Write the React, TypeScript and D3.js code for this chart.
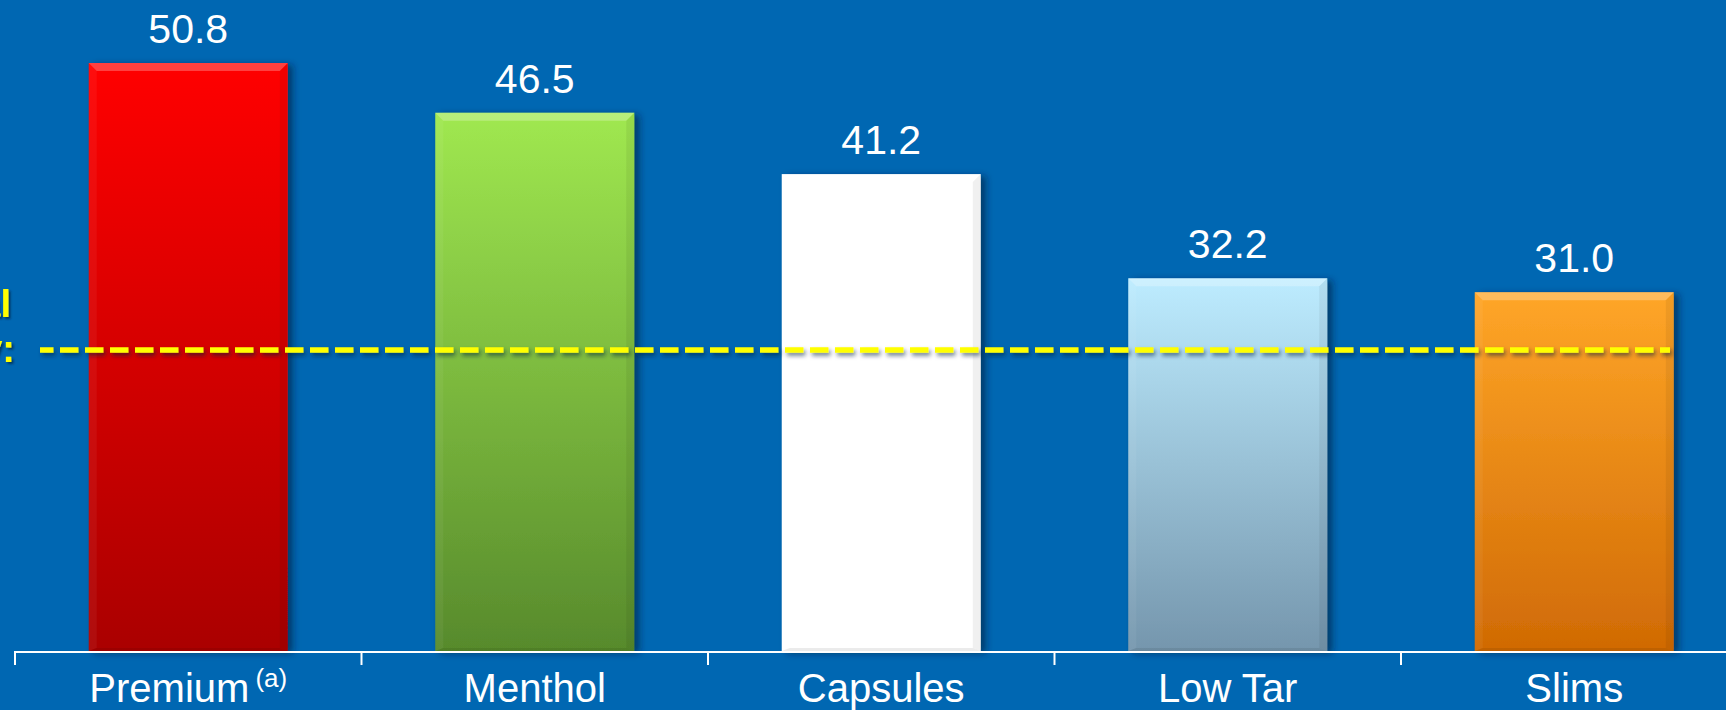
import React from "react";
import * as d3 from "d3";

// Segment values (share, %) and the industry reference level
const categories = ["Premium", "Menthol", "Capsules", "Low Tar", "Slims"];
const values = [50.8, 46.5, 41.2, 32.2, 31.0];
const superscripts = ["(a)", "", "", "", ""];
const industryAverage = 26.0;
const referenceLabel = ["Total", "Industry:"];

// top / bottom gradient stops per bar
const barTopColors = ["#ff0606", "#a0e850", "#ffffff", "#bdecff", "#ffa628"];
const barBottomColors = ["#aa0000", "#578a2c", "#ffffff", "#7596ad", "#d06a04"];

const W = 1726;
const H = 710;
const BG = "#0067b2";

export default function App() {
  const x = d3
    .scaleBand<string>()
    .domain(categories)
    .range([15, 15 + 346.5 * categories.length])
    .paddingInner(0)
    .paddingOuter(0);
  const barW = 199;
  const y = d3.scaleLinear().domain([0, 50.8]).range([651, 63]);
  const baseY = 652;
  const bev = 8;
  const avgY = y(industryAverage);

  const ticks = d3.range(categories.length + 1).map((i) => 15 + i * x.bandwidth());

  return (
    <svg
      width={W}
      height={H}
      style={{ position: "fixed", left: 0, top: 0, display: "block" }}
      fontFamily="'Liberation Sans', Arial, sans-serif"
    >
      <defs>
        {categories.map((c, i) => (
          <linearGradient key={c} id={`g${i}`} x1="0" y1="0" x2="0" y2="1">
            <stop offset="0" stopColor={barTopColors[i]} />
            <stop offset="1" stopColor={barBottomColors[i]} />
          </linearGradient>
        ))}
        <filter id="barShadow" x="-10%" y="-10%" width="130%" height="120%">
          <feDropShadow dx="5" dy="2" stdDeviation="3.5" floodColor="#001a3a" floodOpacity="0.6" />
        </filter>
        <filter
          id="lineShadow"
          filterUnits="userSpaceOnUse"
          x={0}
          y={avgY - 30}
          width={W}
          height={60}
        >
          <feDropShadow dx="2" dy="3" stdDeviation="2" floodColor="#001a3a" floodOpacity="0.55" />
        </filter>
        <filter id="textShadow" x="-20%" y="-20%" width="140%" height="140%">
          <feDropShadow dx="2" dy="2" stdDeviation="1" floodColor="#002040" floodOpacity="0.7" />
        </filter>
      </defs>

      <rect x={0} y={0} width={W} height={H} fill={BG} />

      {/* bars with bevelled edges */}
      {categories.map((c, i) => {
        const cx = (x(c) as number) + x.bandwidth() / 2;
        const x0 = cx - barW / 2;
        const x1 = cx + barW / 2;
        const y0 = y(values[i]);
        const y1 = y(0);
        return (
          <g key={c}>
            <rect
              x={x0}
              y={y0}
              width={barW}
              height={y1 - y0}
              fill={`url(#g${i})`}
              filter="url(#barShadow)"
            />
            {/* top bevel highlight */}
            <polygon
              points={`${x0},${y0} ${x1},${y0} ${x1 - bev},${y0 + bev} ${x0 + bev},${y0 + bev}`}
              fill="#ffffff"
              opacity={0.25}
            />
            {/* left bevel */}
            <polygon
              points={`${x0},${y0} ${x0 + bev},${y0 + bev} ${x0 + bev},${y1 - 3} ${x0},${y1}`}
              fill="#ffffff"
              opacity={0.05}
            />
            {/* right bevel */}
            <polygon
              points={`${x1},${y0} ${x1 - bev},${y0 + bev} ${x1 - bev},${y1 - 3} ${x1},${y1}`}
              fill="#000000"
              opacity={0.06}
            />
            {/* bottom bevel */}
            <polygon
              points={`${x0},${y1} ${x0 + bev},${y1 - 3} ${x1 - bev},${y1 - 3} ${x1},${y1}`}
              fill="#000000"
              opacity={0.08}
            />
            <text
              x={cx}
              y={y0 - 20}
              textAnchor="middle"
              fill="#ffffff"
              fontSize={41}
            >
              {d3.format(".1f")(values[i])}
            </text>
          </g>
        );
      })}

      {/* industry reference dashed line */}
      <line
        x1={40}
        x2={1670}
        y1={avgY}
        y2={avgY}
        stroke="#ffff00"
        strokeWidth={5.5}
        strokeDasharray="18.5 6.5"
        strokeDashoffset={-20}
        filter="url(#lineShadow)"
      />

      {/* reference label, running off the left edge */}
      <g filter="url(#textShadow)" fill="#ffff00" fontWeight="bold" fontSize={38} textAnchor="end">
        <text x={11} y={317}>{referenceLabel[0]}</text>
        <text x={15} y={362}>{referenceLabel[1]}</text>
      </g>

      {/* category axis */}
      <line x1={14} x2={W} y1={baseY} y2={baseY} stroke="#ffffff" strokeWidth={2} />
      {ticks.map((t, i) => (
        <line key={i} x1={t} x2={t} y1={baseY} y2={baseY + 13} stroke="#ffffff" strokeWidth={2} />
      ))}
      {categories.map((c, i) => {
        const cx = (x(c) as number) + x.bandwidth() / 2;
        return (
          <text key={c} x={cx} y={702} textAnchor="middle" fill="#ffffff" fontSize={40}>
            {c}
            {superscripts[i] && (
              <tspan fontSize={26} dx={6} dy={-15}>
                {superscripts[i]}
              </tspan>
            )}
          </text>
        );
      })}
    </svg>
  );
}
